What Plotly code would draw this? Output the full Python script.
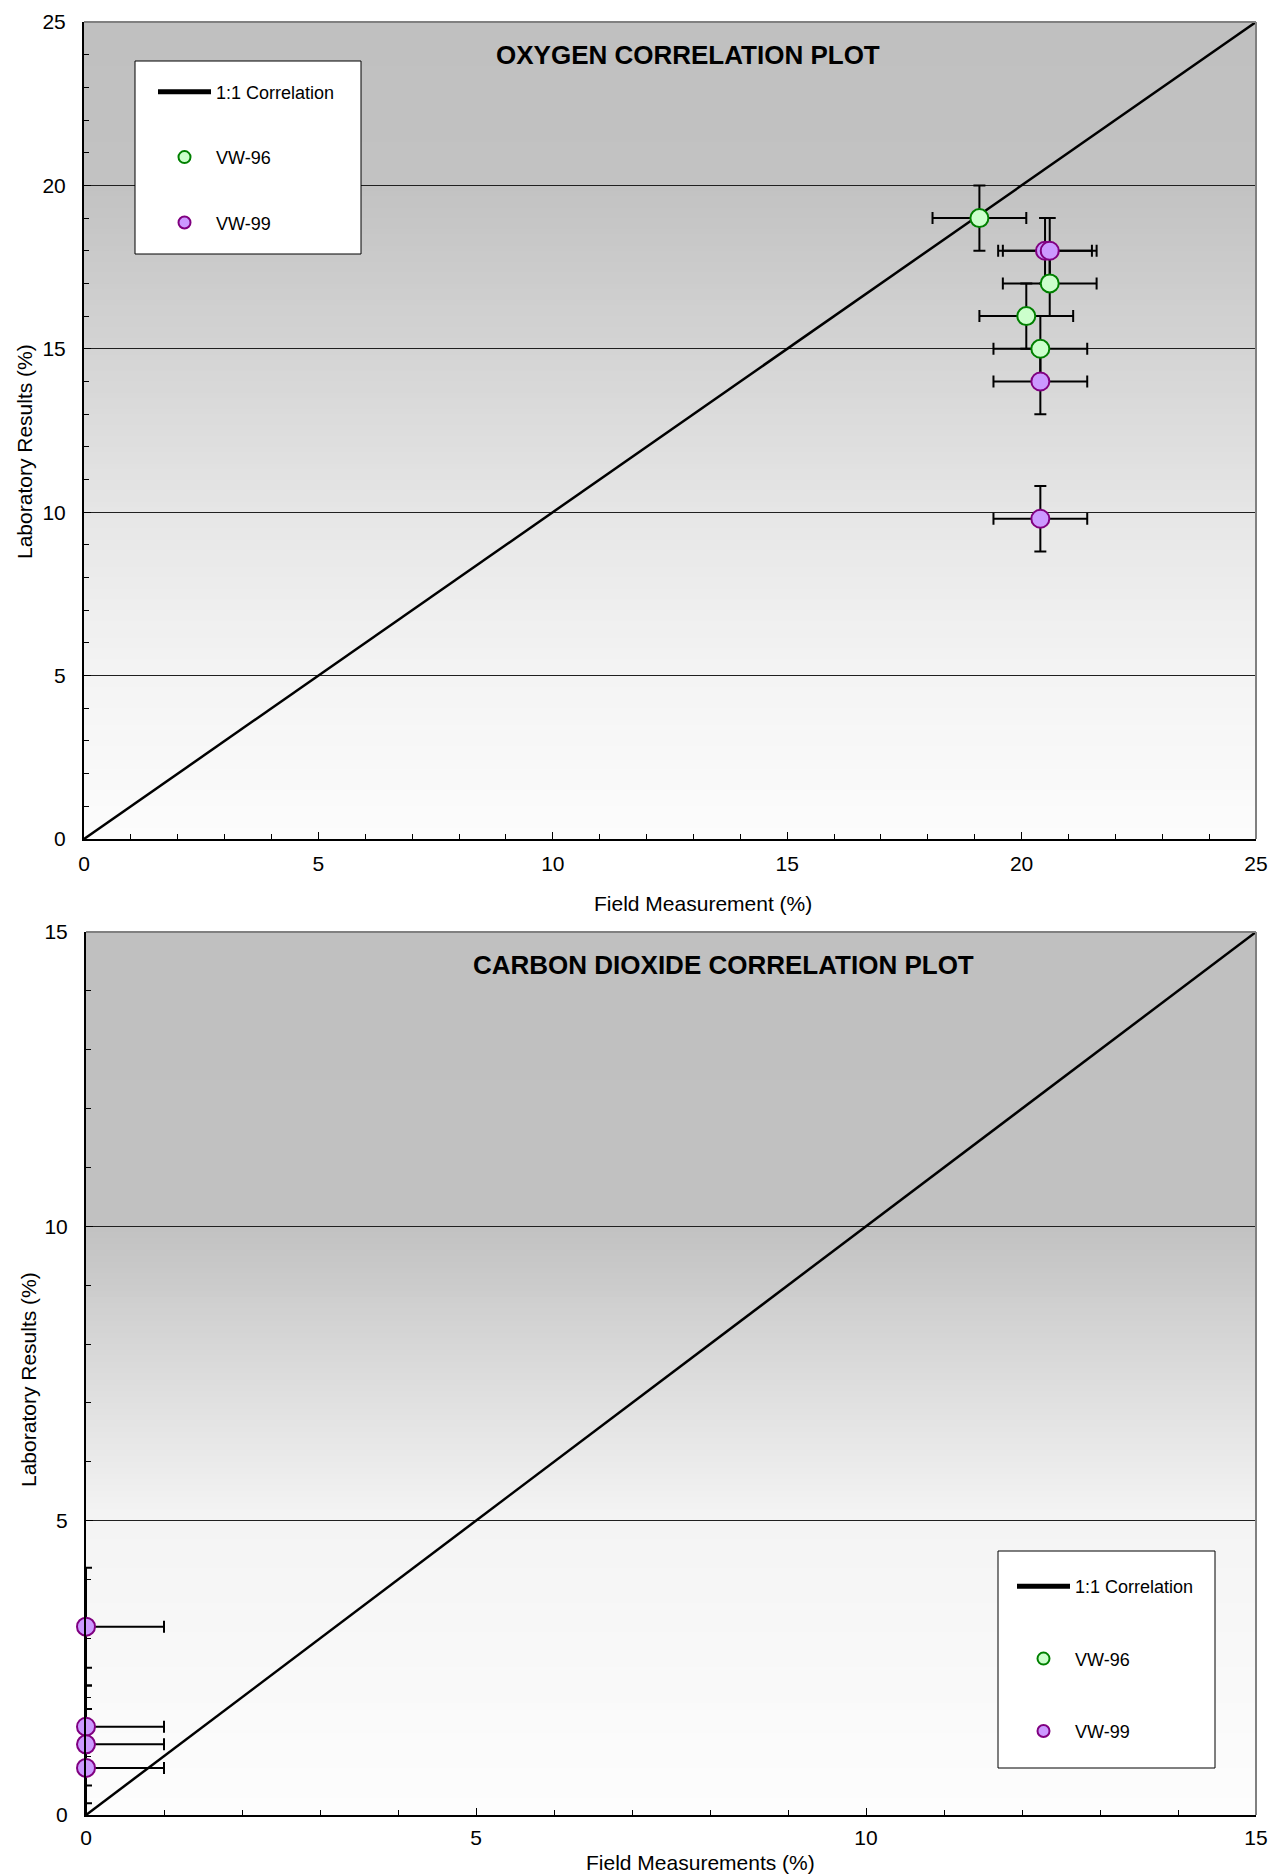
import numpy as np
import plotly.graph_objects as go

# ---------------- data ----------------
# Oxygen correlation plot
o2_vw96_field = [19.1, 20.6, 20.1, 20.4]
o2_vw96_lab = [19.0, 17.0, 16.0, 15.0]
o2_vw99_field = [20.5, 20.6, 20.4, 20.4]
o2_vw99_lab = [18.0, 18.0, 14.0, 9.8]
o2_field_err = [1.0, 1.0, 1.0, 1.0]
o2_lab_err = [1.0, 1.0, 1.0, 1.0]
o2_line = [0, 25]

# Carbon dioxide correlation plot
co2_vw96_field = [None]
co2_vw96_lab = [None]
co2_vw99_field = [0.0, 0.0, 0.0, 0.0]
co2_vw99_lab = [3.2, 1.5, 1.2, 0.8]
co2_field_err = [1.0, 1.0, 1.0, 1.0]
co2_lab_err = [1.0, 1.0, 1.0, 1.0]
co2_line = [0, 15]

# ---------------- styling ----------------
W, H = 1274, 1876
FONT = "Liberation Sans, Arial, sans-serif"
GREEN_FILL, GREEN_LINE = "#ccffcc", "#008000"
PURPLE_FILL, PURPLE_LINE = "#cc99ff", "#800080"


def px_x(p):
    return p / W


def px_y(p):
    return 1 - p / H


fig = go.Figure()


def add_errors(xs, ys, xe, ye, xa, ya):
    # error bars, drawn beneath all markers
    fig.add_trace(go.Scatter(
        x=xs, y=ys, mode="markers", xaxis=xa, yaxis=ya,
        marker=dict(size=2, color="rgba(0,0,0,0)"),
        error_x=dict(type="data", array=xe, color="black", thickness=2, width=6),
        error_y=dict(type="data", array=ye, color="black", thickness=2, width=6),
        showlegend=False, hoverinfo="skip", cliponaxis=True))


def add_markers(xs, ys, xa, ya, name, fill, line, legend, group):
    fig.add_trace(go.Scatter(
        x=xs, y=ys, mode="markers", xaxis=xa, yaxis=ya,
        name=name, legend=legend, legendgroup=group,
        marker=dict(size=18, color=fill, line=dict(color=line, width=2)),
        cliponaxis=False))


# ---- top (oxygen) ----
fig.add_trace(go.Scatter(x=o2_line, y=o2_line, mode="lines", name="1:1 Correlation",
                         line=dict(color="black", width=2.5), xaxis="x", yaxis="y",
                         legend="legend", legendgroup="a1"))
add_errors(o2_vw96_field, o2_vw96_lab, o2_field_err, o2_lab_err, "x", "y")
add_errors(o2_vw99_field, o2_vw99_lab, o2_field_err, o2_lab_err, "x", "y")
add_markers(o2_vw96_field, o2_vw96_lab, "x", "y", "VW-96", GREEN_FILL, GREEN_LINE, "legend", "b1")
add_markers(o2_vw99_field, o2_vw99_lab, "x", "y", "VW-99", PURPLE_FILL, PURPLE_LINE, "legend", "c1")

# ---- bottom (carbon dioxide) ----
fig.add_trace(go.Scatter(x=co2_line, y=co2_line, mode="lines", name="1:1 Correlation",
                         line=dict(color="black", width=2.5), xaxis="x2", yaxis="y2",
                         legend="legend2", legendgroup="a2"))
add_errors(co2_vw96_field, co2_vw96_lab, co2_field_err, co2_lab_err, "x2", "y2")
add_errors(co2_vw99_field, co2_vw99_lab, co2_field_err, co2_lab_err, "x2", "y2")
add_markers(co2_vw96_field, co2_vw96_lab, "x2", "y2", "VW-96", GREEN_FILL, GREEN_LINE, "legend2", "b2")
add_markers(co2_vw99_field, co2_vw99_lab, "x2", "y2", "VW-99", PURPLE_FILL, PURPLE_LINE, "legend2", "c2")

# ---------------- background gradients ----------------
shapes = []


def gradient(xref, yref, stops, n=150):
    fs = [s[0] for s in stops]
    gs = [s[1] for s in stops]
    for i in range(n):
        f0, f1 = i / n, (i + 1) / n
        g = int(round(np.interp((f0 + f1) / 2, fs, gs)))
        shapes.append(dict(type="rect", xref=xref + " domain", yref=yref + " domain",
                           x0=0, x1=1, y0=f0, y1=min(1, f1 + 0.002),
                           fillcolor=f"rgb({g},{g},{g})", line=dict(width=0), layer="below"))


gradient("x", "y", [(0, 252), (0.2, 244), (0.4, 230), (0.6, 212), (0.8, 194), (1.0, 192)])
gradient("x2", "y2", [(0, 253), (0.333, 244), (0.5, 220), (0.667, 193), (1.0, 192)])

# gray top/right frame
for xr, yr in (("x", "y"), ("x2", "y2")):
    shapes.append(dict(type="line", xref=xr + " domain", yref=yr + " domain",
                       x0=0, x1=1, y0=1, y1=1, line=dict(color="#808080", width=2), layer="above"))
    shapes.append(dict(type="line", xref=xr + " domain", yref=yr + " domain",
                       x0=1, x1=1, y0=0, y1=1, line=dict(color="#808080", width=2), layer="above"))

# legend boxes
for (l, t, r, b) in ((135, 61, 361, 254), (998, 1551, 1215, 1768)):
    shapes.append(dict(type="rect", xref="paper", yref="paper",
                       x0=px_x(l), x1=px_x(r), y0=px_y(b), y1=px_y(t),
                       fillcolor="white", line=dict(color="black", width=1), layer="above"))

# ---------------- axes ----------------
tickfont = dict(family=FONT, size=21, color="black")


def axis(rng, domain, anchor, grid, standoff):
    return dict(range=rng, domain=domain, anchor=anchor, dtick=5, tick0=0,
                ticks="inside", ticklen=7, tickwidth=1, tickcolor="black",
                minor=dict(dtick=1, tick0=0, ticks="inside", ticklen=5, tickwidth=1,
                           tickcolor="black", showgrid=False),
                showline=True, linecolor="black", linewidth=2, mirror=False,
                showgrid=grid, gridcolor="#202020", gridwidth=1, zeroline=False,
                tickfont=tickfont, ticklabelstandoff=standoff, fixedrange=True,
                automargin=False)


layout = dict(
    height=H, autosize=True, margin=dict(l=0, r=0, t=0, b=0, pad=0),
    paper_bgcolor="white", plot_bgcolor="white",
    font=dict(family=FONT, color="black"),
    xaxis=axis([0, 25], [px_x(84), px_x(1256)], "y", False, 5),
    yaxis=axis([0, 25], [px_y(839), px_y(22)], "x", True, 12),
    xaxis2=axis([0, 15], [px_x(86), px_x(1256)], "y2", False, 3),
    yaxis2=axis([0, 15], [px_y(1815), px_y(932)], "x2", True, 12),
    shapes=shapes,
    legend=dict(x=px_x(153), y=px_y(73.5), xanchor="left", yanchor="top",
                bgcolor="rgba(0,0,0,0)", borderwidth=0,
                font=dict(family=FONT, size=18, color="black"),
                tracegroupgap=39, itemwidth=53, itemsizing="constant"),
    legend2=dict(x=px_x(1012), y=px_y(1568), xanchor="left", yanchor="top",
                 bgcolor="rgba(0,0,0,0)", borderwidth=0,
                 font=dict(family=FONT, size=18, color="black"),
                 tracegroupgap=46, itemwidth=53, itemsizing="constant"),
    showlegend=True,
    annotations=[
        dict(text="<b>OXYGEN CORRELATION PLOT</b>", x=px_x(688), y=px_y(55), xref="paper",
             yref="paper", showarrow=False, xanchor="center", yanchor="middle",
             font=dict(family=FONT, size=26, color="black")),
        dict(text="<b>CARBON DIOXIDE CORRELATION PLOT</b>", x=px_x(724), y=px_y(965),
             xref="paper", yref="paper", showarrow=False, xanchor="center", yanchor="middle",
             font=dict(family=FONT, size=26, color="black")),
        dict(text="Field Measurement (%)", x=px_x(703), y=px_y(903), xref="paper", yref="paper",
             showarrow=False, xanchor="center", yanchor="middle",
             font=dict(family=FONT, size=21, color="black")),
        dict(text="Field Measurements (%)", x=px_x(700), y=px_y(1862), xref="paper",
             yref="paper", showarrow=False, xanchor="center", yanchor="middle",
             font=dict(family=FONT, size=21, color="black")),
        dict(text="Laboratory Results (%)", x=px_x(25), y=px_y(452), xref="paper", yref="paper",
             showarrow=False, xanchor="center", yanchor="middle", textangle=-90,
             font=dict(family=FONT, size=21, color="black")),
        dict(text="Laboratory Results (%)", x=px_x(28), y=px_y(1380), xref="paper",
             yref="paper", showarrow=False, xanchor="center", yanchor="middle", textangle=-90,
             font=dict(family=FONT, size=21, color="black")),
    ],
)
fig.update_layout(**layout)

# The graph div is pinned to the top-left corner of the 1274x1876 window, so
# the browser's default body margin cannot push it out of view.
fig.write_html("out.html", default_width="1274px; position:absolute; left:0; top:0",
               config={"displayModeBar": False, "responsive": False})
